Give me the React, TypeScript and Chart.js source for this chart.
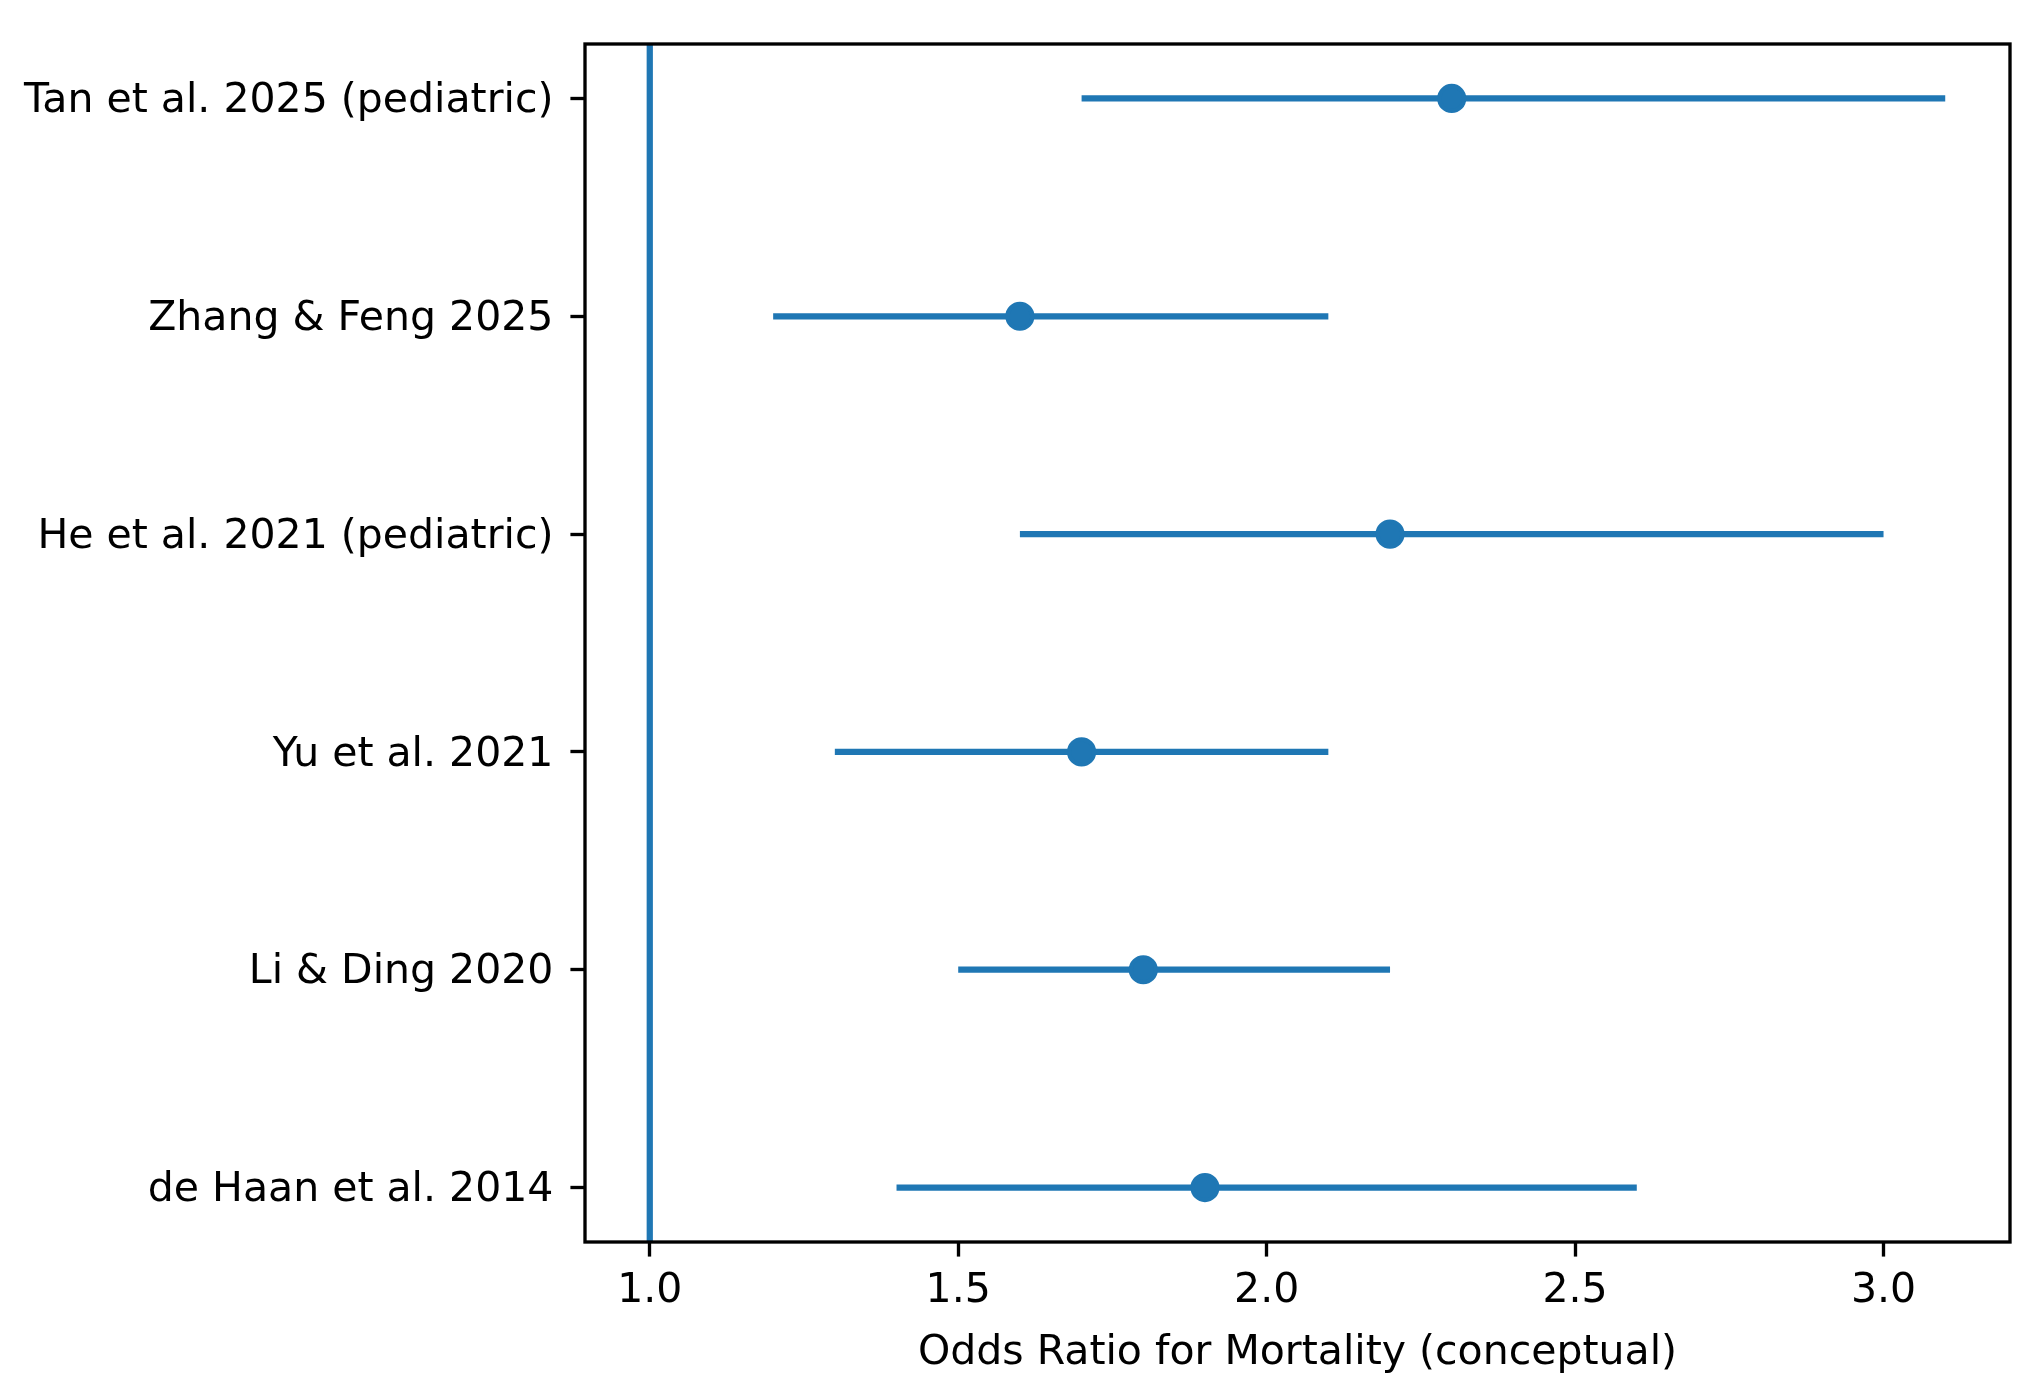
import React, { useEffect, useRef } from "react";
import { Chart, registerables } from "chart.js";

Chart.register(...registerables);

// ---- Data ----
const studies = [
  "de Haan et al. 2014",
  "Li & Ding 2020",
  "Yu et al. 2021",
  "He et al. 2021 (pediatric)",
  "Zhang & Feng 2025",
  "Tan et al. 2025 (pediatric)",
];
const oddsRatios = [1.9, 1.8, 1.7, 2.2, 1.6, 2.3];
const ciLower = [1.4, 1.5, 1.3, 1.6, 1.2, 1.7];
const ciUpper = [2.6, 2.2, 2.1, 3.0, 2.1, 3.1];
const xTickValues = [1.0, 1.5, 2.0, 2.5, 3.0];
const referenceValue = 1.0;
const xAxisTitle = "Odds Ratio for Mortality (conceptual)";

// ---- Styling ----
const W = 2043;
const H = 1386;
const BLUE = "#1f77b4";
const PT = 300 / 72; // px per point (300 dpi)
const FONT = "'DejaVu Sans', 'Liberation Sans', sans-serif";
const FONT_SIZE = 41;

// matplotlib-like auto limits with 5% margins
const dataMinX = Math.min(referenceValue, ...ciLower);
const dataMaxX = Math.max(referenceValue, ...ciUpper);
const xMargin = (dataMaxX - dataMinX) * 0.05;
const X_MIN = dataMinX - xMargin;
const X_MAX = dataMaxX + xMargin;
const yMargin = (studies.length - 1) * 0.05;
const Y_MIN = 0 - yMargin;
const Y_MAX = studies.length - 1 + yMargin;

const framePlugin = {
  id: "frame",
  afterDraw(chart: any) {
    const { ctx, chartArea } = chart;
    ctx.save();
    ctx.strokeStyle = "#000";
    ctx.lineWidth = 0.8 * PT;
    ctx.lineJoin = "miter";
    ctx.strokeRect(
      chartArea.left,
      chartArea.top,
      chartArea.right - chartArea.left,
      chartArea.bottom - chartArea.top
    );
    ctx.restore();
  },
};

export default function App() {
  const canvasRef = useRef<HTMLCanvasElement | null>(null);

  useEffect(() => {
    const canvas = canvasRef.current;
    if (!canvas) return;

    const errorDatasets = studies.map((s, i) => ({
      type: "line" as const,
      label: s,
      data: [
        { x: ciLower[i], y: i },
        { x: ciUpper[i], y: i },
      ],
      borderColor: BLUE,
      borderWidth: 1.5 * PT,
      borderCapStyle: "butt" as const,
      pointRadius: 0,
      showLine: true,
      fill: false,
      order: 2,
    }));

    const refLine = {
      type: "line" as const,
      label: "reference",
      data: [
        { x: referenceValue, y: Y_MIN },
        { x: referenceValue, y: Y_MAX },
      ],
      borderColor: BLUE,
      borderWidth: 1.5 * PT,
      borderCapStyle: "butt" as const,
      pointRadius: 0,
      showLine: true,
      fill: false,
      order: 3,
    };

    const markers = {
      type: "scatter" as const,
      label: "OR",
      data: oddsRatios.map((v, i) => ({ x: v, y: i })),
      backgroundColor: BLUE,
      borderColor: BLUE,
      borderWidth: 1 * PT,
      pointRadius: 3 * PT,
      pointHoverRadius: 3 * PT,
      order: 1,
    };

    const chart = new Chart(canvas, {
      type: "scatter",
      data: { datasets: [refLine, ...errorDatasets, markers] as any },
      options: {
        animation: false,
        responsive: false,
        devicePixelRatio: 1,
        events: [],
        layout: { padding: { top: 44, right: W - 2010, left: 0, bottom: 0 } },
        plugins: {
          legend: { display: false },
          tooltip: { enabled: false },
          title: { display: false },
        },
        scales: {
          x: {
            type: "linear",
            min: X_MIN,
            max: X_MAX,
            afterFit(scale: any) {
              scale.height = H - 1242;
            },
            afterBuildTicks(scale: any) {
              scale.ticks = xTickValues.map((v) => ({ value: v }));
            },
            ticks: {
              autoSkip: false,
              maxRotation: 0,
              minRotation: 0,
              padding: 10,
              color: "#000",
              font: { family: FONT, size: FONT_SIZE },
              callback: (v: any) => Number(v).toFixed(1),
            },
            grid: {
              display: true,
              drawOnChartArea: false,
              drawTicks: true,
              tickLength: 3.5 * PT,
              tickWidth: 0.8 * PT,
              tickColor: "#000",
            },
            border: { display: false },
            title: {
              display: true,
              text: xAxisTitle,
              color: "#000",
              font: { family: FONT, size: FONT_SIZE, lineHeight: 1.2 },
              padding: { top: 0, bottom: 8 },
            },
          },
          y: {
            type: "linear",
            min: Y_MIN,
            max: Y_MAX,
            afterFit(scale: any) {
              scale.width = 585;
            },
            afterBuildTicks(scale: any) {
              scale.ticks = studies.map((_, i) => ({ value: i }));
            },
            ticks: {
              autoSkip: false,
              padding: 17,
              labelOffset: 3,
              color: "#000",
              font: { family: FONT, size: FONT_SIZE },
              callback: (v: any) => studies[Math.round(Number(v))] ?? "",
            },
            grid: {
              display: true,
              drawOnChartArea: false,
              drawTicks: true,
              tickLength: 3.5 * PT,
              tickWidth: 0.8 * PT,
              tickColor: "#000",
            },
            border: { display: false },
          },
        },
      },
      plugins: [framePlugin],
    });

    return () => chart.destroy();
  }, []);

  return (
    <div style={{ position: "absolute", left: 0, top: 0, width: W, height: H, background: "#fff" }}>
      <canvas ref={canvasRef} width={W} height={H} style={{ width: W, height: H, display: "block" }} />
    </div>
  );
}
